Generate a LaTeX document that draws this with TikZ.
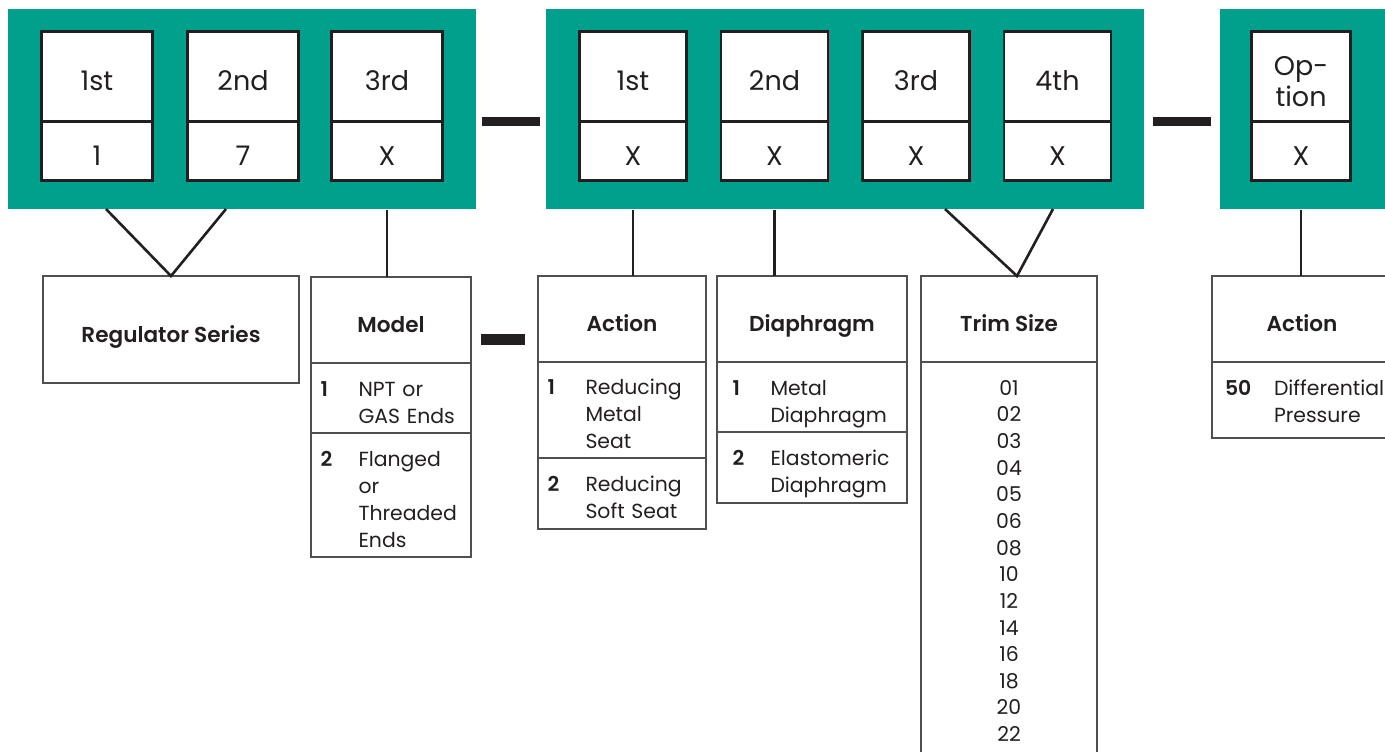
\documentclass[tikz,border=0pt]{standalone}
\usepackage{fontspec}
\setmainfont{Poppins}[BoldFont={Poppins SemiBold}]
\usetikzlibrary{positioning}
\definecolor{ink}{HTML}{231F20}
\definecolor{band green}{HTML}{00A08C}
\definecolor{rule gray}{HTML}{505050}
\newcommand{\opt}[4][15.75pt]{\makebox[#2][l]{\bfseries #3}\begin{tabular}[t]{@{}l@{}}\rule{0pt}{#1}#4\end{tabular}}

\begin{document}
\begin{tikzpicture}[x=0.5pt,y=-0.5pt,text=ink]
\tikzset{
band/.style={fill=band green,minimum height=100pt,anchor=north west,inner sep=0},
head cell/.style={draw=ink,line width=1.35pt,fill=white,outer sep=0,minimum width=#1,minimum height=45.3pt,font=\fontsize{13.5}{15.9}\selectfont,text height=14.2pt,text depth=0pt},
code cell/.style={head cell=#1,minimum height=29.3pt,text height=14.7pt},
table head/.style={draw=rule gray,line width=1pt,anchor=north west,outer sep=0,minimum height=43pt,font=\fontsize{10.8}{14}\selectfont\bfseries,text height=12.7pt,text depth=0pt},
opt row/.style={draw=rule gray,line width=1pt,anchor=north west,outer sep=0,inner ysep=0pt,align=left,font=\fontsize{10.2}{13.5}\selectfont},
bar/.style={fill=ink,inner sep=0,minimum height=4.5pt},
link/.style={draw=ink,line width=1.3pt}
}
\useasboundingbox (0,0) rectangle (1385,751);
\clip (0,0) rectangle (1385,751);

\node[band,minimum width=234pt] (g1) at (8,9) {};
\node[band,minimum width=299pt] (g2) at (546,9) {};
\node[band,minimum width=90pt] (g3) at (1220,9) {};

\node[head cell=55.5pt] (p1) at (97,76.5) {1st};
\node[code cell=55.5pt,below=0pt of p1] (v1) {1};
\node[head cell=55.5pt] (p2) at (243,76.5) {2nd};
\node[code cell=55.5pt,below=0pt of p2] (v2) {7};
\node[head cell=55.5pt] (p3) at (387,76.5) {3rd};
\node[code cell=55.5pt,below=0pt of p3] (v3) {X};

\node[head cell=53.6pt] (p4) at (633,76.5) {1st};
\node[code cell=53.6pt,below=0pt of p4] (v4) {X};
\node[head cell=53.6pt] (p5) at (774.5,76.5) {2nd};
\node[code cell=53.6pt,below=0pt of p5] (v5) {X};
\node[head cell=53.6pt] (p6) at (916,76.5) {3rd};
\node[code cell=53.6pt,below=0pt of p6] (v6) {X};
\node[head cell=53.6pt] (p7) at (1057.5,76.5) {4th};
\node[code cell=53.6pt,below=0pt of p7] (v7) {X};

\node[head cell=49.6pt,text height=14.5pt,text depth=16pt] (p8) at (1301,76.5) {\begin{tabular}[t]{@{}c@{}}Op-\\tion\end{tabular}};
\node[code cell=49.6pt,below=0pt of p8] (v8) {X};

\node[bar,minimum width=29pt] (b1) at (511,121.5) {};
\node[bar,minimum width=29pt] (b2) at (1182,121.5) {};
\node[bar,minimum width=22pt,minimum height=5.5pt] (b3) at (503,339) {};

\node[table head,minimum width=128pt,minimum height=53.5pt] (reg) at (43,276) {Regulator Series};

\node[table head,minimum width=80pt] (m0) at (311,277) {Model};
\node[opt row,inner xsep=4.75pt,text width=70.5pt,minimum height=35pt] (m1) at (m0.south west) {\opt{19pt}{1}{NPT or\\GAS Ends}};
\node[opt row,inner xsep=4.75pt,text width=70.5pt,minimum height=62pt] (m2) at (m1.south west) {\opt{19pt}{2}{Flanged\\or\\Threaded\\Ends}};

\node[table head,minimum width=84pt] (a0) at (538,276) {Action};
\node[opt row,inner xsep=4.75pt,text width=74.5pt,minimum height=48pt] (a1) at (a0.south west) {\opt{19pt}{1}{Reducing\\Metal\\Seat}};
\node[opt row,inner xsep=4.75pt,text width=74.5pt,minimum height=35.5pt] (a2) at (a1.south west) {\opt{19pt}{2}{Reducing\\Soft Seat}};

\node[table head,minimum width=95pt] (d0) at (717,276) {Diaphragm};
\node[opt row,inner xsep=7.75pt,text width=79.5pt,minimum height=35pt] (d1) at (d0.south west) {\opt{19pt}{1}{Metal\\Diaphragm}};
\node[opt row,inner xsep=7.75pt,text width=79.5pt,minimum height=35.5pt] (d2) at (d1.south west) {\opt{19pt}{2}{Elastomeric\\Diaphragm}};

\node[table head,minimum width=88pt] (t0) at (921,276) {Trim Size};
\node[opt row,align=center,inner xsep=0pt,inner ysep=7.2pt,text width=88pt,font=\fontsize{10.2}{13.33}\selectfont] (t1) at (t0.south west) {\strut 01\\02\\03\\04\\05\\06\\08\\10\\12\\14\\16\\18\\20\\22};

\node[table head,minimum width=90pt] (o0) at (1212,276) {Action};
\node[opt row,inner xsep=6.5pt,text width=77pt,minimum height=38pt] (o1) at (o0.south west) {\opt[12.75pt]{24.5pt}{50}{Differential\\Pressure}};

\coordinate (r1) at (106,209);
\coordinate (r2) at (226,209);
\draw[link] (r1) -- (reg.north) -- (r2);
\draw[link] (v3 |- g1.south) -- (v3 |- m0.north);
\draw[link] (v4 |- g2.south) -- (v4 |- a0.north);
\draw[link] (v5 |- g2.south) -- (v5 |- d0.north);
\coordinate (s1) at (945,209);
\coordinate (s2) at (1053,209);
\draw[link] (s1) -- ([xshift=4pt]t0.north) -- (s2);
\draw[link] (v8 |- g3.south) -- (v8 |- o0.north);
\end{tikzpicture}
\end{document}
